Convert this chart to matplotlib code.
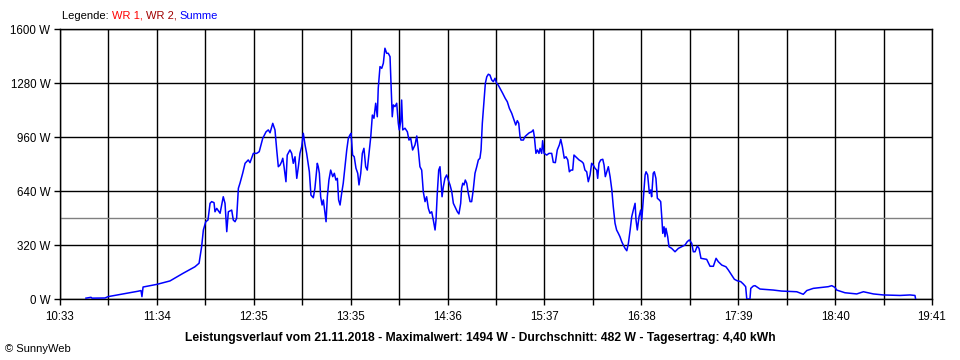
import numpy as np
import matplotlib
matplotlib.use("Agg")
import matplotlib.pyplot as plt

# ---- data: minutes after 10:33 and total power (W) ----
minutes = [
    16.3, 19.5, 20.1, 28.3, 30.2, 39.6, 49.0, 50.9, 51.5, 52.2,
    61.0, 69.1, 77.3, 84.8, 87.4, 89.0, 90.1, 91.6, 93.0, 94.3,
    95.3, 96.8, 97.4, 98.5, 100.6, 102.6, 103.7, 104.8, 105.8, 107.9,
    108.9, 110.0, 111.0, 112.1, 113.1, 114.8, 116.3, 118.3, 119.4, 121.5,
    123.6, 125.2, 127.4, 129.5, 130.9, 132.0, 133.7, 135.1, 136.2, 137.2,
    138.3, 139.3, 140.0, 140.8, 142.0, 142.8, 144.5, 145.6, 146.6, 147.7,
    148.8, 149.8, 150.8, 151.9, 152.9, 154.0, 155.0, 156.7, 157.7, 159.2,
    160.2, 161.3, 161.7, 162.3, 163.0, 163.8, 164.7, 165.5, 166.5, 167.2,
    168.0, 169.0, 170.1, 171.4, 172.4, 173.4, 174.3, 175.1, 176.0, 177.0,
    178.0, 179.1, 180.2, 181.2, 182.2, 182.9, 183.9, 184.9, 186.0, 187.1,
    187.9, 189.0, 190.0, 191.0, 192.1, 193.1, 194.2, 195.3, 196.3, 197.3,
    198.4, 199.4, 200.0, 201.1, 202.2, 203.2, 204.2, 205.3, 206.3, 207.4,
    208.0, 208.8, 209.5, 210.5, 211.6, 212.6, 213.2, 214.1, 214.7, 215.4,
    216.8, 218.3, 219.3, 220.4, 221.6, 223.1, 224.2, 225.2, 226.2, 227.3,
    228.3, 229.4, 230.4, 231.5, 232.5, 233.6, 234.6, 235.7, 236.3, 237.1,
    238.0, 238.8, 239.4, 240.1, 240.9, 241.9, 243.0, 244.0, 245.1, 246.2,
    247.2, 248.7, 249.7, 250.7, 251.8, 252.4, 253.1, 253.9, 254.7, 255.6,
    256.6, 257.7, 258.7, 259.7, 260.8, 261.9, 262.9, 263.9, 264.6, 265.4,
    266.5, 267.3, 268.2, 269.2, 270.2, 271.3, 272.3, 273.4, 274.4, 275.4,
    276.5, 278.2, 279.8, 281.1, 282.4, 283.9, 285.3, 286.4, 287.4, 288.3,
    289.1, 289.7, 291.2, 292.2, 293.3, 294.9, 296.4, 297.4, 298.1, 299.1,
    300.0, 301.0, 301.7, 302.7, 303.3, 304.2, 305.9, 307.3, 309.0, 310.0,
    311.3, 312.5, 313.8, 314.7, 315.7, 316.9, 318.0, 319.1, 320.1, 321.1,
    322.2, 323.0, 324.1, 325.1, 326.2, 327.9, 328.9, 329.9, 331.0, 332.0,
    333.1, 334.1, 335.1, 336.2, 337.3, 337.9, 338.7, 339.8, 341.1, 341.9,
    342.7, 343.6, 344.6, 345.7, 346.8, 347.7, 348.8, 349.8, 350.9, 351.9,
    353.0, 354.0, 355.1, 356.2, 357.2, 358.3, 359.3, 360.3, 361.4, 362.0,
    362.8, 363.9, 364.9, 365.6, 366.6, 367.7, 368.3, 369.3, 370.4, 371.2,
    371.8, 372.8, 373.5, 374.5, 375.4, 376.6, 377.5, 378.3, 378.8, 379.6,
    380.2, 380.8, 381.9, 382.7, 384.4, 386.5, 388.6, 390.7, 392.8, 394.2,
    395.5, 397.0, 398.0, 399.1, 400.5, 401.6, 402.8, 406.4, 407.2, 408.5,
    410.6, 412.3, 413.7, 415.9, 418.5, 420.0, 422.1, 423.8, 425.6, 427.8,
    429.4, 430.9, 431.6, 433.6, 434.1, 435.7, 436.8, 439.9, 448.3, 453.5,
    463.0, 467.1, 469.3, 473.4, 482.8, 485.0, 487.0, 488.1, 493.3, 500.7,
    504.9, 511.2, 517.4, 527.9, 534.2, 537.3, 537.7,
]
watts = [
    5, 10, 5, 6, 14, 30, 46, 50, 14, 71,
    87, 107, 152, 191, 212, 310, 409, 458, 468, 567,
    577, 571, 517, 537, 508, 606, 567, 399, 517, 527,
    468, 458, 478, 656, 686, 745, 804, 824, 808, 863,
    863, 873, 952, 991, 1002, 985, 1041, 1002, 883, 784,
    794, 814, 834, 784, 695, 853, 883, 863, 804, 843,
    715, 784, 863, 903, 982, 913, 863, 754, 616, 600,
    656, 764, 804, 784, 745, 606, 557, 587, 508, 458,
    606, 705, 764, 725, 745, 705, 715, 587, 557, 626,
    686, 784, 883, 952, 972, 982, 853, 843, 775, 745,
    676, 745, 863, 893, 784, 764, 863, 962, 1090, 1071,
    1160, 1080, 1249, 1377, 1367, 1397, 1486, 1456, 1456, 1436,
    1278, 1080, 1150, 1140, 1160, 1041, 1002, 1051, 1179, 1002,
    1012, 991, 942, 952, 883, 913, 966, 883, 784, 764,
    636, 577, 606, 537, 508, 517, 468, 409, 468, 626,
    764, 784, 705, 606, 665, 715, 735, 705, 676, 636,
    567, 537, 517, 504, 567, 656, 686, 676, 705, 686,
    626, 577, 577, 646, 745, 784, 824, 834, 883, 1041,
    1179, 1278, 1317, 1332, 1327, 1298, 1288, 1308, 1278, 1268,
    1249, 1219, 1189, 1169, 1130, 1100, 1061, 1031, 1057, 1041,
    962, 942, 942, 962, 972, 985, 991, 1002, 962, 863,
    883, 863, 893, 863, 938, 863, 853, 863, 863, 810,
    808, 883, 913, 946, 903, 834, 843, 824, 754, 764,
    764, 853, 843, 834, 824, 814, 804, 764, 754, 695,
    735, 804, 794, 775, 764, 715, 804, 824, 828, 794,
    725, 754, 784, 725, 646, 547, 449, 409, 389, 369,
    340, 320, 300, 286, 330, 409, 488, 527, 567, 468,
    409, 488, 527, 468, 597, 735, 754, 735, 626, 646,
    606, 745, 754, 715, 597, 587, 577, 468, 389, 428,
    369, 419, 369, 310, 300, 280, 300, 310, 320, 340,
    350, 330, 280, 280, 314, 300, 241, 235, 219, 194,
    194, 241, 221, 201, 191, 172, 142, 117, 108, 103,
    89, 73, 0, 0, 63, 77, 79, 59, 53, 47,
    43, 28, 50, 63, 73, 79, 69, 53, 37, 30,
    43, 30, 24, 21, 24, 21, 0,
]
average_w = 482
span_min = 548  # 10:33 .. 19:41
time_labels = ["10:33", "11:34", "12:35", "13:35", "14:36",
               "15:37", "16:38", "17:39", "18:40", "19:41"]
y_ticks = [0, 320, 640, 960, 1280, 1600]
y_labels = ["0 W", "320 W", "640 W", "960 W", "1280 W", "1600 W"]
title = ("Leistungsverlauf vom 21.11.2018 - Maximalwert: 1494 W - "
         "Durchschnitt: 482 W - Tagesertrag: 4,40 kWh")

plt.rcParams['font.family'] = ['Liberation Sans', 'DejaVu Sans']

fig = plt.figure(figsize=(9.6, 3.6), dpi=100)
ax = fig.add_axes([60 / 960, 1 - 299 / 360, 872 / 960, 270 / 360])

# grid: a line every half label step
n_div = 2 * (len(time_labels) - 1)
x_pos = np.linspace(0, span_min, n_div + 1)
x_lab = []
for i in range(n_div + 1):
    x_lab.append(time_labels[i // 2] if i % 2 == 0 else "")

ax.set_xlim(0, span_min)
ax.set_ylim(0, 1600)
ax.set_xticks(x_pos)
ax.set_xticklabels(x_lab)
ax.set_yticks(y_ticks)
ax.set_yticklabels(y_labels)
ax.grid(True, color="black", linewidth=1.0)
ax.set_axisbelow(True)
for s in ax.spines.values():
    s.set_color("black")
    s.set_linewidth(1.0)
ax.tick_params(axis="both", direction="out", length=4, width=1.0,
               color="black", labelsize=8.3, pad=3)
ax.tick_params(axis="x", pad=5)

ax.axhline(average_w, color="#808080", linewidth=1.0, zorder=2)
ax.plot(minutes, watts, color="#0000ff", linewidth=1.1, zorder=3)

fig.text(0.5, 1 - 338 / 360, title, ha="center", va="center",
         fontsize=8.75, fontweight="bold")
fig.text(5 / 960, 1 - 349 / 360, "\u00a9 SunnyWeb", ha="left", va="center",
         fontsize=8)

# legend as coloured text pieces
parts = [("Legende: ", "black"), ("WR 1, ", "#ff0000"),
         ("WR 2, ", "#a00000"), ("Summe", "#0000ff")]
fig.canvas.draw()
r = fig.canvas.get_renderer()
x0 = 62
for txt, col in parts:
    t = fig.text(x0 / 960, 1 - 16 / 360, txt, color=col, fontsize=8,
                 ha="left", va="center")
    x0 += t.get_window_extent(renderer=r).width

fig.savefig("out.png", dpi=100)
